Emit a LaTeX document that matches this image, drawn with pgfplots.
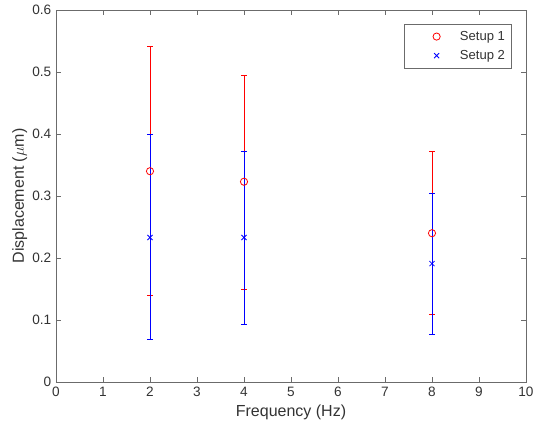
\documentclass[border=0pt]{standalone}
\usepackage{pgfplots}
\pgfplotsset{compat=1.18}
\usepackage{pgfplotstable}
\usepackage{fontspec}
\setmainfont{Liberation Sans}
\definecolor{axgray}{rgb}{0.42,0.42,0.42}
\definecolor{txtgray}{rgb}{0.2,0.2,0.2}

\pgfplotsset{myleg/.style={legend image code/.code={\path[draw=none] (0pt,0pt) -- (37pt,0pt);\draw[##1, only marks] plot coordinates {(21.5pt,0pt)};}}}

\pgfplotstableread{
x y ep em
2 0.340 0.202 0.201
4 0.323 0.171 0.173
8 0.240 0.132 0.131
}\setupone
\pgfplotstableread{
x y ep em
2 0.233 0.167 0.1635
4 0.233 0.139 0.140
8 0.191 0.114 0.114
}\setuptwo

\begin{document}
\begin{tikzpicture}
\path[use as bounding box] (-42pt,-38.25pt) rectangle (357.75pt,286.5pt);
\begin{axis}[
  scale only axis,
  width=352.5pt, height=279pt,
  xmin=0, xmax=10, ymin=0, ymax=0.6,
  xtick={0,1,...,10},
  ytick={0,0.1,...,0.6},
  yticklabel style={/pgf/number format/fixed, /pgf/number format/precision=1},
  /pgf/number format/assume math mode=true,
  tick align=inside, tick pos=both,
  major tick length=3.5pt,
  axis line style={axgray, line width=0.7pt},
  every tick/.style={axgray, line width=0.6pt},
  tick label style={font=\fontsize{10.2}{12}\selectfont, text=txtgray},
  label style={font=\fontsize{12}{14}\selectfont, text=txtgray},
  xlabel={Frequency (Hz)},
  ylabel={Displacement ($\mu$m)},
  xlabel style={at={(axis description cs:0.5,-0.081)}, anchor=center},
  ylabel style={at={(axis description cs:-0.077,0.5)}, anchor=center},
  legend style={at={(1,1)}, anchor=north east, xshift=-10.5pt, yshift=-10.5pt,
    draw=axgray, line width=0.5pt, font=\fontsize{9.8}{11}\selectfont, text=txtgray,
    inner sep=3pt, row sep=2pt},
  legend cell align=left,
]
\addplot[only marks, color=red, mark=o, mark size=2.7pt, line width=0.6pt, myleg,
  error bars/.cd, y dir=both, y explicit,
  error mark options={red, line width=0.6pt, mark size=2.2pt, rotate=90},
  error bar style={red, line width=0.6pt}]
  table[x=x, y=y, y error plus=ep, y error minus=em] {\setupone};
\addlegendentry{Setup 1}
\addplot[only marks, color=blue, mark=x, mark size=2.7pt, line width=0.6pt, myleg,
  error bars/.cd, y dir=both, y explicit,
  error mark options={blue, line width=0.6pt, mark size=2.2pt, rotate=90},
  error bar style={blue, line width=0.6pt}]
  table[x=x, y=y, y error plus=ep, y error minus=em] {\setuptwo};
\addlegendentry{Setup 2}
\end{axis}
\end{tikzpicture}
\end{document}
